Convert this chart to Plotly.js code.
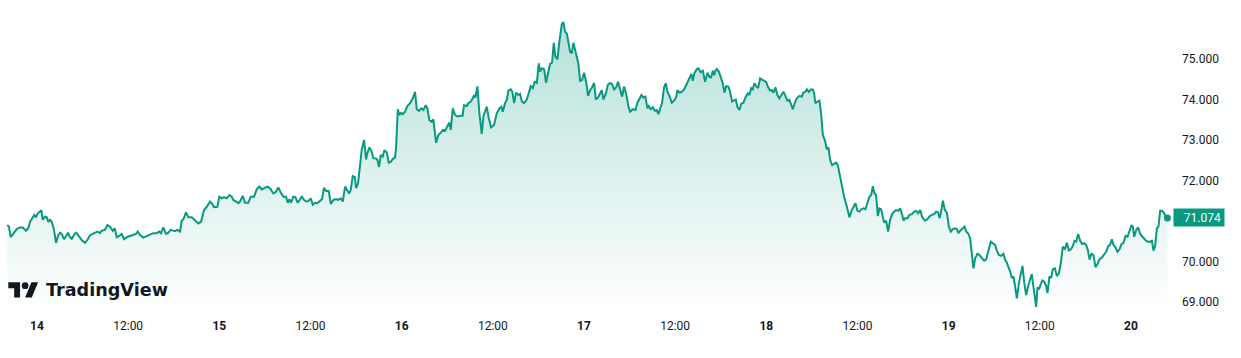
<!DOCTYPE html>
<html><head><meta charset="utf-8">
<script src="https://cdn.plot.ly/plotly-3.0.1.min.js"></script>
<style>html,body{margin:0;padding:0;background:#fff;overflow:hidden}#chart{width:1241px;height:358px}</style>
</head><body><div id="chart"></div>
<script>
// hours elapsed since 14 00:00
const hoursFrom14 = [
-3.91,-3.69,-3.46,-3.12,-2.67,-2.24,-1.88,-1.45,-1.15,-0.92,-0.62,-0.36,-0.13,0.09,0.39,0.57,0.75,1.05,1.28,1.49,
1.71,1.94,2.24,2.50,2.80,3.03,3.25,3.55,3.82,4.08,4.34,4.57,4.78,5.09,5.31,5.57,5.88,6.32,6.62,6.98,
7.41,7.94,8.29,8.52,8.95,9.26,9.61,9.97,10.23,10.49,10.83,11.15,11.45,11.81,12.24,12.68,13.03,13.26,13.56,13.99,
14.44,14.88,15.31,15.76,16.10,16.32,16.63,16.98,17.29,17.60,17.86,18.17,18.47,18.83,19.05,19.26,19.62,19.92,20.37,20.80,
21.24,21.59,21.99,22.34,22.78,23.00,23.30,23.74,24.00,24.32,24.62,24.97,25.32,25.63,25.84,26.20,26.50,26.72,27.08,27.38,
27.82,28.13,28.57,28.92,29.27,29.58,30.02,30.32,30.67,31.11,31.46,31.77,32.08,32.43,32.78,33.00,33.22,33.44,33.74,34.01,
34.32,34.53,34.85,35.15,35.41,35.72,36.03,36.30,36.60,36.90,37.26,37.52,37.78,38.05,38.40,38.67,39.01,39.36,39.67,39.98,
40.25,40.55,40.85,41.11,41.30,41.56,41.83,42.00,42.26,42.52,42.75,43.05,43.31,43.48,43.75,44.06,44.27,44.63,44.80,45.02,
45.25,45.51,45.72,46.04,46.30,46.56,46.83,47.13,47.26,47.49,47.70,47.92,48.14,48.45,48.75,49.11,49.46,49.76,49.99,50.29,
50.59,50.86,51.17,51.38,51.65,51.96,52.17,52.53,52.83,53.15,53.41,53.71,54.02,54.28,54.46,54.73,55.03,55.33,55.69,56.02,
56.21,56.57,56.78,57.10,57.36,57.53,57.70,57.97,58.23,58.54,58.76,59.20,59.47,59.77,60.16,60.52,60.86,61.13,61.31,61.61,
61.84,62.05,62.36,62.57,62.80,63.06,63.36,63.59,63.81,64.11,64.47,64.68,65.00,65.26,65.52,65.79,66.05,66.22,66.48,66.75,
67.01,67.27,67.54,67.80,68.02,68.24,68.50,68.76,69.08,69.29,69.51,69.74,69.95,70.17,70.39,70.60,70.83,71.05,71.26,71.49,
71.75,72.01,72.28,72.54,72.80,73.07,73.33,73.55,73.86,74.12,74.34,74.55,74.91,75.13,75.44,75.70,75.96,76.23,76.49,76.75,
77.02,77.28,77.54,77.85,78.07,78.42,78.77,79.03,79.29,79.56,79.82,80.08,80.35,80.53,80.79,81.06,81.32,81.58,81.79,82.02,
82.28,82.54,82.77,82.98,83.24,83.56,83.86,84.12,84.30,84.56,84.87,85.18,85.44,85.74,85.97,86.14,86.32,86.53,86.85,87.06,
87.35,87.64,87.94,88.25,88.51,88.73,88.96,89.13,89.30,89.48,89.75,90.01,90.27,90.48,90.71,91.01,91.23,91.50,91.76,91.98,
92.20,92.46,92.68,92.98,93.30,93.56,93.78,94.00,94.22,94.43,94.66,94.92,95.18,95.45,95.71,95.97,96.24,96.50,96.72,96.93,
97.20,97.46,97.72,97.99,98.25,98.51,98.78,99.04,99.26,99.49,99.75,100.01,100.36,100.67,100.88,101.15,101.33,101.59,101.86,102.12,
102.29,102.46,102.73,102.99,103.21,103.44,103.70,103.96,104.18,104.40,104.66,104.93,105.19,105.41,105.62,105.94,106.24,106.60,106.94,107.25,
107.47,107.73,107.99,108.26,108.52,108.78,109.05,109.31,109.57,109.80,110.02,110.23,110.45,110.68,110.89,111.11,111.34,111.51,111.77,112.03,
112.30,112.56,112.82,113.09,113.35,113.61,113.84,114.05,114.27,114.58,114.84,115.16,115.46,115.72,115.98,116.25,116.51,116.87,117.13,117.47,
117.79,118.09,118.35,118.62,118.79,118.97,119.24,119.50,119.76,120.03,120.29,120.55,120.85,121.08,121.29,121.51,121.87,122.08,122.30,122.61,
122.83,123.05,123.26,123.49,123.79,124.05,124.37,124.67,124.94,125.24,125.55,125.82,126.12,126.35,126.61,126.91,127.21,127.44,127.66,127.87,
128.10,128.32,128.53,128.75,128.98,129.24,129.50,129.72,129.94,130.20,130.47,130.73,130.95,131.16,131.35,131.52,131.69,131.87,132.05,132.31,
132.57,132.83,133.01,133.27,133.49,133.72,133.98,134.24,134.51,134.77,135.03,135.30,135.56,135.82,136.09,136.35,136.56,136.79,137.05,137.31,
137.57,137.84,138.10,138.33,138.54,138.80,139.06,139.33,139.59,139.85,140.17,140.47,140.73,141.00,141.26,141.48,141.70,141.96,142.22,142.49,
142.75,143.01,143.28,143.54,143.80,144.07,144.25,144.42,144.69,144.95,145.21,145.47,145.74,146.00,146.26,146.53,146.75,146.96,147.18,147.41,
147.62,147.84,148.11,148.37,148.63,148.80
];
const prices = [
70.90,70.86,70.60,70.68,70.80,70.84,70.84,70.76,70.82,70.98,71.07,71.15,71.09,71.19,71.23,71.27,71.03,71.11,71.09,70.98,
71.03,70.98,70.78,70.46,70.65,70.71,70.68,70.55,70.63,70.71,70.60,70.56,70.63,70.71,70.68,70.60,70.53,70.46,70.53,70.65,
70.70,70.74,70.70,70.76,70.78,70.90,70.86,70.76,70.82,70.60,70.63,70.68,70.55,70.60,70.63,70.65,70.68,70.74,70.65,70.59,
70.63,70.68,70.70,70.70,70.74,70.70,70.84,70.68,70.71,70.78,70.76,70.75,70.78,70.74,71.01,71.04,71.21,71.09,71.09,71.01,
70.94,70.98,71.27,71.35,71.48,71.44,71.34,71.35,71.60,71.56,71.59,71.56,71.64,71.60,71.52,71.48,71.44,71.48,71.62,71.45,
71.45,71.60,71.60,71.78,71.85,71.78,71.82,71.85,71.81,71.68,71.72,71.83,71.70,71.60,71.60,71.45,71.54,71.45,71.60,71.59,
71.45,71.52,71.60,71.52,71.48,71.49,71.56,71.40,71.45,71.44,71.50,71.54,71.82,71.74,71.74,71.42,71.52,71.54,71.52,71.56,
71.48,71.85,71.75,71.68,71.77,72.11,72.09,71.81,71.93,72.42,72.77,73.00,72.52,72.67,72.82,72.71,72.55,72.54,72.51,72.33,
72.63,72.59,72.75,72.69,72.44,72.46,72.53,72.57,72.80,73.76,73.62,73.67,73.64,73.70,73.84,73.91,74.03,74.19,73.76,73.72,
73.78,73.74,73.86,73.78,73.49,73.45,73.51,72.93,73.12,73.18,73.25,73.23,73.33,73.43,73.25,73.78,73.62,73.58,73.60,73.60,
73.86,73.84,73.91,73.95,74.03,74.11,74.05,74.32,73.66,73.15,73.58,73.82,73.54,73.31,73.37,73.66,73.78,73.82,73.70,73.91,
73.99,74.22,74.25,74.19,73.91,74.17,74.11,74.14,73.95,73.91,74.00,74.11,74.33,74.28,74.44,74.41,74.89,74.69,74.77,74.75,
74.41,74.65,74.88,74.91,75.40,75.06,74.99,75.43,75.86,75.91,75.67,75.63,75.39,75.18,75.14,75.40,75.22,75.02,74.89,74.46,
74.48,74.66,74.44,74.09,74.23,74.30,74.41,74.00,74.05,74.15,74.23,74.00,74.17,74.36,74.41,74.38,74.25,74.30,74.44,74.25,
74.07,74.32,74.15,73.82,73.70,73.76,73.74,73.92,74.00,74.11,74.05,74.07,73.78,73.84,73.76,73.81,73.72,73.74,73.64,73.76,
73.92,74.30,74.40,74.19,74.09,73.92,73.97,74.05,74.23,74.17,74.19,74.25,74.36,74.48,74.58,74.63,74.46,74.65,74.75,74.77,
74.67,74.71,74.44,74.66,74.56,74.55,74.71,74.60,74.71,74.75,74.69,74.56,74.40,74.17,74.33,74.32,74.19,73.95,73.99,74.00,
73.81,73.74,73.89,73.92,74.07,74.15,74.11,74.28,74.25,74.40,74.33,74.28,74.52,74.48,74.46,74.44,74.30,74.22,74.23,74.17,
74.30,74.11,74.03,74.11,74.19,74.09,73.97,73.99,73.86,73.76,73.92,74.03,74.09,74.07,74.17,74.19,74.25,74.19,74.25,74.25,
74.15,73.91,73.95,73.97,73.66,73.12,73.00,72.77,72.82,72.51,72.38,72.42,72.44,72.38,72.18,71.93,71.60,71.35,71.09,71.27,
71.35,71.44,71.25,71.23,71.29,71.31,71.29,71.48,71.60,71.64,71.86,71.68,71.64,71.12,71.31,71.29,71.11,70.96,71.01,70.74,
71.03,71.17,71.23,71.27,71.25,71.31,71.19,71.01,71.07,71.07,71.15,71.17,71.23,71.25,71.19,71.27,71.10,71.01,71.03,71.11,
71.15,71.17,71.23,71.21,71.07,71.19,71.50,71.27,71.21,70.86,70.74,70.80,70.82,70.80,70.70,70.76,70.82,70.86,70.74,70.68,
70.57,70.08,69.83,70.08,70.19,70.16,70.08,70.02,70.05,70.27,70.49,70.45,70.41,70.27,70.16,70.14,70.19,70.04,69.97,69.86,
69.75,69.59,69.63,69.38,69.09,69.46,69.75,69.89,69.50,69.17,69.40,69.59,69.69,69.38,69.12,68.88,69.36,69.31,69.40,69.53,
69.50,69.40,69.22,69.63,69.59,69.81,69.83,69.64,69.71,69.96,70.37,70.30,70.46,70.27,70.30,70.38,70.51,70.49,70.68,70.51,
70.43,70.45,70.41,70.28,70.05,70.19,70.16,69.86,69.94,70.05,70.10,70.19,70.24,70.38,70.41,70.55,70.41,70.35,70.24,70.30,
70.43,70.46,70.63,70.61,70.78,70.90,70.86,70.61,70.78,70.84,70.68,70.63,70.57,70.51,70.49,70.49,70.51,70.27,70.38,70.82,
70.86,71.25,71.25,71.19,71.09,71.074
];
const xTickHours = [0,12,24,36,48,60,72,84,96,108,120,132,144];
const xTickLabels = ['<b>14</b>','12:00','<b>15</b>','12:00','<b>16</b>','12:00','<b>17</b>','12:00','<b>18</b>','12:00','<b>19</b>','12:00','<b>20</b>'];
const yTickValues = [69,70,72,73,74,75];
const lastLabel = '71.074';

const base = Date.UTC(2024,2,14);
const toDate = h => new Date(base + h*3600000).toISOString().replace('T',' ').slice(0,19);
const times = hoursFrom14.map(toDate);
const GREEN = '#089981';
const yRange = [68.802, 76.457];
const L = 7, W = 1165, H = 310;
const lastP = prices[prices.length-1];

// TradingView logo (decorative) in pixel space -> paper space
const px = X => (X - L)/W, py = Y => (H - Y)/H;
const s = 0.84, ox = 8.3, oy = 278.94;
const pt = (u,v) => px(ox + s*u).toFixed(5) + ',' + py(oy + s*v).toFixed(5);
const logoT = 'M' + pt(0,4) + 'L' + pt(14,4) + 'L' + pt(14,22) + 'L' + pt(7,22) + 'L' + pt(7,11) + 'L' + pt(0,11) + 'Z';
const logoS = 'M' + pt(28,22) + 'L' + pt(20,22) + 'L' + pt(27.5,4) + 'L' + pt(35.5,4) + 'Z';
const cx = ox + s*20, cy = oy + s*8, r = s*4;

const traces = [
  {x: times, y: prices, type: 'scatter', mode: 'lines', line: {color: GREEN, width: 2}, fill: 'tozeroy',
   fillgradient: {type: 'vertical', start: yRange[0], stop: 76.0,
     colorscale: [[0, 'rgba(8,153,129,0.0)'], [1, 'rgba(8,153,129,0.30)']]},
   hoverinfo: 'skip'},
  {x: [times[times.length-1]], y: [lastP], type: 'scatter', mode: 'markers',
   marker: {color: GREEN, size: 7}, hoverinfo: 'skip'}
];

const layout = {
  width: 1241, height: 358,
  margin: {l: L, r: 1241 - L - W, t: 0, b: 358 - H},
  paper_bgcolor: '#ffffff', plot_bgcolor: '#ffffff',
  showlegend: false,
  font: {family: 'Roboto, sans-serif', color: '#131722', size: 12},
  xaxis: {type: 'date', range: [toDate(-3.95), toDate(149.4)], showgrid: false, zeroline: false,
    showline: false, ticks: '', tickvals: xTickHours.map(toDate), ticktext: xTickLabels,
    tickfont: {size: 12, color: '#131722'}, ticklabelstandoff: 7, fixedrange: true},
  yaxis: {side: 'right', range: yRange, showgrid: false, zeroline: false, showline: false, ticks: '',
    tickvals: yTickValues, tickformat: '.3f', tickfont: {size: 12, color: '#131722'},
    ticklabelstandoff: 9, automargin: false, fixedrange: true},
  shapes: [
    {type: 'path', xref: 'paper', yref: 'paper', path: logoT, fillcolor: '#131722', line: {width: 0}},
    {type: 'path', xref: 'paper', yref: 'paper', path: logoS, fillcolor: '#131722', line: {width: 0}},
    {type: 'circle', xref: 'paper', yref: 'paper', x0: px(cx - r), x1: px(cx + r), y0: py(cy + r), y1: py(cy - r),
     fillcolor: '#131722', line: {width: 0}}
  ],
  annotations: [
    {xref: 'paper', yref: 'paper', x: px(43.5), y: py(290), xanchor: 'left', yanchor: 'middle', showarrow: false,
     text: 'TradingView', font: {family: 'DejaVu Sans', size: 17.6, weight: 600, color: '#131722'}},
    {xref: 'paper', yref: 'y', x: 1, y: lastP, xanchor: 'left', yanchor: 'middle', xshift: 1, showarrow: false,
     text: lastLabel, bgcolor: GREEN, width: 44, height: 11, borderpad: 3, align: 'right',
     font: {family: 'Roboto, sans-serif', size: 12, color: '#ffffff'}}
  ]
};
Plotly.newPlot('chart', traces, layout, {displayModeBar: false, staticPlot: true});
</script>
</body></html>
